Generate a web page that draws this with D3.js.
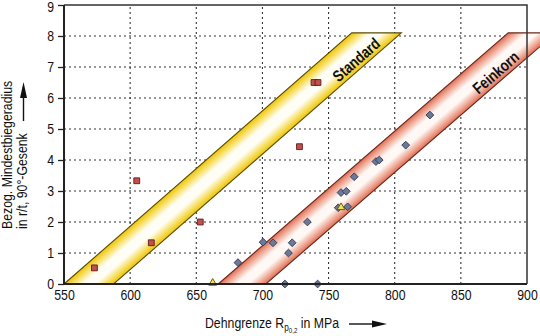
<!DOCTYPE html>
<html><head><meta charset="utf-8">
<script src="https://cdn.jsdelivr.net/npm/d3@7"></script>
<style>
html,body{margin:0;padding:0;background:#fff;}
svg{display:block;font-family:"Liberation Sans Narrow","Arial Narrow","Liberation Sans",Arial,sans-serif;}
</style></head>
<body>
<svg id="c" width="540" height="336"></svg>
<script>
// ---- data ----
const xTicks = [550, 600, 650, 700, 750, 800, 850, 900];
const yTicks = [0, 1, 2, 3, 4, 5, 6, 7, 8, 9];

const squaresX = [573, 605, 616, 653, 728, 739, 742];
const squaresY = [0.52, 3.33, 1.33, 2.0, 4.43, 6.5, 6.5];

const diamondsX = [681.5, 700.5, 708, 719.7, 722.5, 734, 717, 741.7, 757.3, 764.4, 759.4, 763.4, 769.4, 785.8, 788.3, 808.3, 826.6];
const diamondsY = [0.69, 1.35, 1.33, 1.0, 1.33, 2.0, 0, 0, 2.46, 2.49, 2.95, 2.99, 3.46, 3.95, 4.0, 4.48, 5.45];

const trianglesX = [662.4, 759.4];
const trianglesY = [0, 2.44];

const bandNames = ["Standard", "Feinkorn"];
const bandStartX = [550, 666.6];      // lower-left corner at r/t = 0
const bandTopStartX = [767.5, 885.8]; // upper-left corner at r/t = bandTop
const bandWidth = [37.5, 36];         // MPa
const bandTop = 8.1;
const bandLabelX = [771, 876.5];
const bandLabelY = [7.23, 6.82];

const xTitle = "Dehngrenze R";
const yTitle1 = "Bezog. Mindestbiegeradius";
const yTitle2 = "in r/t, 90°-Gesenk";

// ---- drawing ----
const SX = 0.82; // horizontal condensing of the font
const svg = d3.select("#c");
const x = d3.scaleLinear().domain([550, 900]).range([64, 527]);
const y = d3.scaleLinear().domain([0, 9]).range([284, 5]);

const defs = svg.append("defs");
const bandStyles = [
  {edge: "#edc30c", mid: "#f6da4e", center: "#fffef6", stroke: "#5a4c00"},
  {edge: "#de6c56", mid: "#eda08b", center: "#fff8f5", stroke: "#6a2818"}
];

// grid
const grid = svg.append("g").attr("stroke", "#333").attr("stroke-width", 1.1).attr("stroke-dasharray", "2,3");
grid.selectAll("line.v").data(xTicks.slice(1, -1)).join("line")
  .attr("x1", d => x(d)).attr("x2", d => x(d)).attr("y1", y(0)).attr("y2", y(9));
grid.selectAll("line.h").data(yTicks.slice(1, -1)).join("line")
  .attr("x1", x(550)).attr("x2", x(900)).attr("y1", d => y(d)).attr("y2", d => y(d));

// bands
bandNames.forEach((name, i) => {
  const p0 = [x(bandStartX[i]), y(0)];
  const p1 = [x(bandTopStartX[i]), y(bandTop)];
  const wpx = x(bandStartX[i] + bandWidth[i]) - x(bandStartX[i]);
  const dx = p1[0] - p0[0], dy = p1[1] - p0[1];
  const len = Math.hypot(dx, dy);
  const ux = dx / len, uy = dy / len;
  const nx = -uy, ny = ux;
  const wp = wpx * nx;
  const st = bandStyles[i];
  const g = defs.append("linearGradient").attr("id", "band" + i)
    .attr("gradientUnits", "userSpaceOnUse")
    .attr("x1", p0[0]).attr("y1", p0[1])
    .attr("x2", p0[0] + nx * wp).attr("y2", p0[1] + ny * wp);
  [[0, st.edge], [0.13, st.mid], [0.38, st.center], [0.62, st.center], [0.87, st.mid], [1, st.edge]]
    .forEach(s => g.append("stop").attr("offset", s[0]).attr("stop-color", s[1]));
  const pts = [
    [x(bandStartX[i]), y(0)],
    [x(bandTopStartX[i]), y(bandTop)],
    [x(bandTopStartX[i] + bandWidth[i]), y(bandTop)],
    [x(bandStartX[i] + bandWidth[i]), y(0)]
  ];
  svg.append("polygon").attr("points", pts.map(p => p.join(",")).join(" "))
    .attr("fill", "url(#band" + i + ")").attr("stroke", st.stroke).attr("stroke-width", 1.1);
});

// markers
const diam = svg.append("g");
diamondsX.forEach((d, i) => {
  diam.append("path").attr("d", d3.symbol(d3.symbolSquare, 30)())
    .attr("transform", `translate(${x(d)},${y(diamondsY[i])}) rotate(45)`)
    .attr("fill", "#6b7996").attr("stroke", "#323c58").attr("stroke-width", 0.9);
});
const sq = svg.append("g");
squaresX.forEach((d, i) => {
  sq.append("path").attr("d", d3.symbol(d3.symbolSquare, 34)())
    .attr("transform", `translate(${x(d)},${y(squaresY[i])})`)
    .attr("fill", "#c2504c").attr("stroke", "#5a1c1c").attr("stroke-width", 0.9);
});
const tri = svg.append("g");
trianglesX.forEach((d, i) => {
  tri.append("path").attr("d", d3.symbol(d3.symbolTriangle, 26)())
    .attr("transform", `translate(${x(d)},${y(trianglesY[i]) - 1})`)
    .attr("fill", "#f3e25a").attr("stroke", "#5a5200").attr("stroke-width", 0.9);
});

// frame
svg.append("path").attr("d", `M${x(550)},${y(9)}H${x(900)}V${y(0)}`)
  .attr("fill", "none").attr("stroke", "#333").attr("stroke-width", 1.5);
svg.append("path").attr("d", `M${x(550)},${y(9)}V${y(0)}H${x(900)}`)
  .attr("fill", "none").attr("stroke", "#222").attr("stroke-width", 2);

// axes
const yAxis = d3.axisLeft(y).tickValues(yTicks).tickSize(6).tickPadding(6.2).tickFormat(d3.format("d"));
const ya = svg.append("g").attr("transform", `translate(${x(550)},0)`).call(yAxis);
ya.select(".domain").remove();
ya.selectAll("line").attr("stroke", "#222").attr("stroke-width", 1.3);
ya.selectAll("text").attr("font-size", 15).attr("fill", "#111").attr("font-family", null)
  .attr("transform", `scale(${SX},1)`);
ya.selectAll(".tick").filter(d => d === 9).select("text").attr("dy", "0.42em");

const xAxis = d3.axisBottom(x).tickValues(xTicks).tickSize(0).tickPadding(5).tickFormat(d3.format("d"));
const xa = svg.append("g").attr("transform", `translate(0,${y(0)})`).call(xAxis);
xa.select(".domain").remove();
xa.selectAll("text").attr("font-size", 15).attr("fill", "#111").attr("font-family", null)
  .attr("transform", `scale(${SX},1)`);

// band labels
bandNames.forEach((name, i) => {
  const ang = Math.atan2(y(bandTop) - y(0), x(bandTopStartX[i]) - x(bandStartX[i])) * 180 / Math.PI;
  svg.append("text")
    .attr("transform", `translate(${x(bandLabelX[i])},${y(bandLabelY[i])}) rotate(${ang}) scale(${SX},1)`)
    .attr("text-anchor", "middle").attr("dominant-baseline", "central")
    .attr("font-size", 16).attr("font-weight", "bold").attr("fill", "#111")
    .text(name);
});

// x title
const xt = svg.append("text").attr("transform", `translate(205,328) scale(${SX},1)`)
  .attr("font-size", 15).attr("fill", "#111");
xt.append("tspan").text(xTitle);
xt.append("tspan").attr("font-size", 10).attr("dy", 3).text("p");
xt.append("tspan").attr("font-size", 7.5).attr("dy", 1.5).text("0,2");
xt.append("tspan").attr("dy", -4.5).text(" in MPa");
svg.append("line").attr("x1", 349).attr("x2", 376).attr("y1", 324).attr("y2", 324)
  .attr("stroke", "#111").attr("stroke-width", 1.4);
svg.append("path").attr("d", "M372,320.5L387,324L372,327.5Z").attr("fill", "#111");

// y title
svg.append("text").attr("transform", `translate(12,229) rotate(-90) scale(${SX},1)`)
  .attr("font-size", 15).attr("fill", "#111").text(yTitle1);
svg.append("text").attr("transform", `translate(27,229) rotate(-90) scale(${SX},1)`)
  .attr("font-size", 15).attr("fill", "#111").text(yTitle2);
svg.append("line").attr("x1", 23.5).attr("x2", 23.5).attr("y1", 121).attr("y2", 95)
  .attr("stroke", "#111").attr("stroke-width", 1.4);
svg.append("path").attr("d", "M20,98L23.5,82L27,98Z").attr("fill", "#111");
</script>
</body></html>
